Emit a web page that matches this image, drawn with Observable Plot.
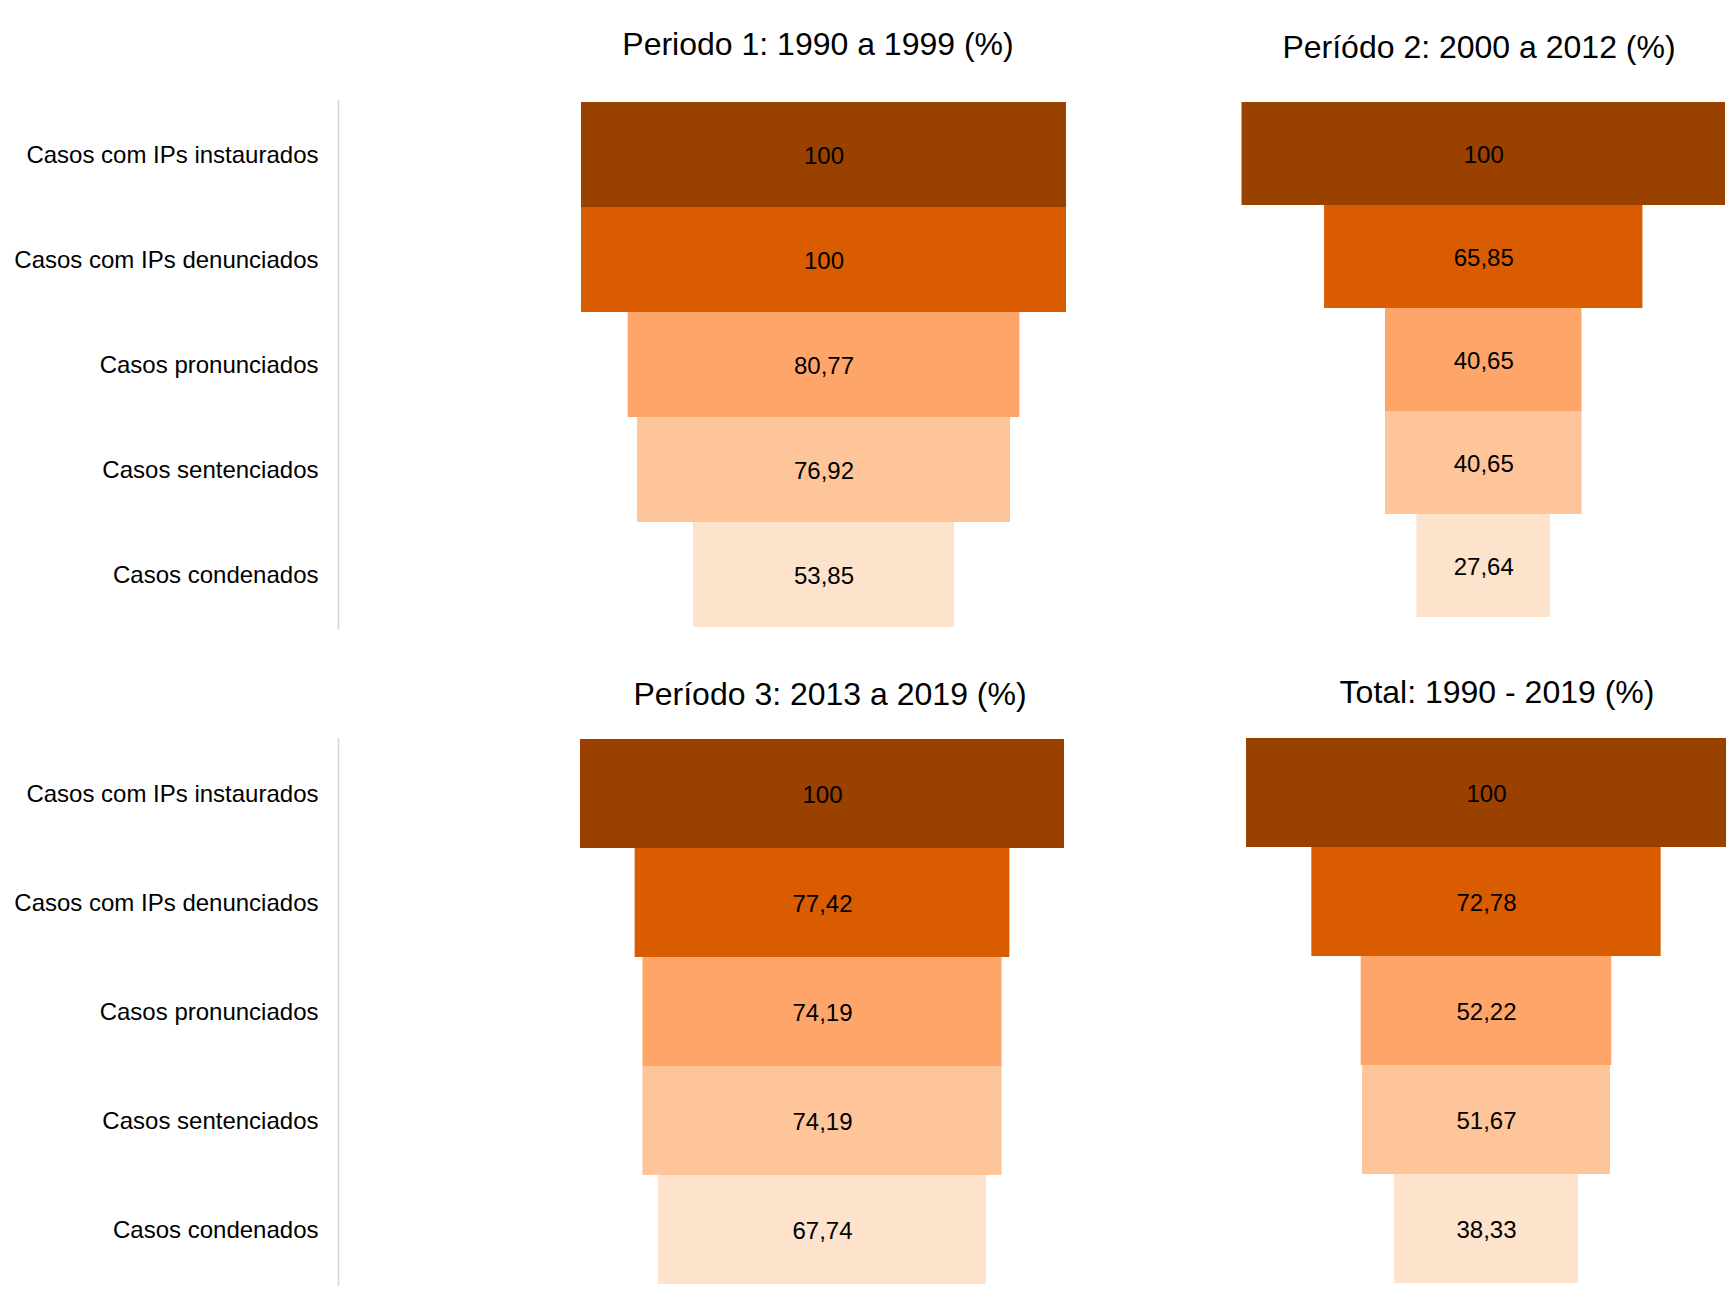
<!DOCTYPE html>
<html>
<head>
<meta charset="utf-8">
<script src="https://cdn.jsdelivr.net/npm/d3@7"></script>
<script src="https://cdn.jsdelivr.net/npm/@observablehq/plot@0.6"></script>
<style>
  html, body { margin: 0; padding: 0; background: #fff; }
  #page { position: relative; width: 1735px; height: 1303px; overflow: hidden; font-family: "Liberation Sans", Arial, sans-serif; }
  #page svg { position: absolute; left: 0; top: 0; }
  .title { position: absolute; font-size: 32px; line-height: 32px; color: #000; white-space: nowrap; transform: translateX(-50%); font-family: "Liberation Sans", Arial, sans-serif; }
</style>
</head>
<body>
<div id="page"></div>
<script>
const stages = ["Casos com IPs instaurados", "Casos com IPs denunciados", "Casos pronunciados", "Casos sentenciados", "Casos condenados"];
const periodo1 = [100, 100, 80.77, 76.92, 53.85];
const periodo2 = [100, 65.85, 40.65, 40.65, 27.64];
const periodo3 = [100, 77.42, 74.19, 74.19, 67.74];
const total = [100, 72.78, 52.22, 51.67, 38.33];
const titles = ["Periodo 1: 1990 a 1999 (%)", "Períódo 2: 2000 a 2012 (%)", "Período 3: 2013 a 2019 (%)", "Total: 1990 - 2019 (%)"];
const stageColors = ["#9a4100", "#d95c00", "#fea66a", "#fec59b", "#fde2cc"];

const W = 1735, H = 1303;
const page = document.getElementById("page");
const fmt = v => d3.format(".2~f")(v).replace(".", ",");

const panels = [
  {values: periodo1, x: [581, 1066], y: [100, 628], axis: true, title: titles[0], tx: 818, tb: 55},
  {values: periodo2, x: [1241.5, 1725], y: [100, 619], axis: false, title: titles[1], tx: 1479, tb: 58},
  {values: periodo3, x: [580, 1064], y: [738, 1285], axis: true, title: titles[2], tx: 830, tb: 705},
  {values: total, x: [1246, 1726], y: [736, 1285], axis: false, title: titles[3], tx: 1497, tb: 703}
];

for (const p of panels) {
  const data = stages.map((s, i) => ({stage: s, value: p.values[i]}));
  const marks = [
    Plot.barX(data, {x1: d => -d.value / 2, x2: d => d.value / 2, y: "stage", fill: "stage", inset: 0}),
    Plot.text(data, {x: d => (d.value / 2 - d.value / 2), y: "stage", text: d => fmt(d.value), fontSize: 24, fill: "#000", dy: 1})
  ];
  if (p.axis) {
    marks.push(Plot.axisY({tickSize: 0, tickPadding: 20, fontSize: 24, fill: "#000"}));
    marks.push(Plot.frame({anchor: "left", stroke: "#d6d6d6", strokeWidth: 1.6}));
  } else {
    marks.push(Plot.axisY({ticks: []}));
  }
  const chart = Plot.plot({
    width: W,
    height: H,
    marginLeft: p.axis ? 338 : p.x[0],
    marginRight: W - p.x[1],
    marginTop: p.y[0],
    marginBottom: H - p.y[1],
    style: {fontFamily: "'Liberation Sans', Arial, sans-serif", fontSize: "24px", color: "#000", background: "transparent", overflow: "visible"},
    x: {domain: [-50, 50], range: p.x, axis: null},
    y: {domain: stages, range: p.y, padding: 0, label: null, axis: null},
    color: {domain: stages, range: stageColors},
    marks
  });
  page.appendChild(chart);
  const t = document.createElement("div");
  t.className = "title";
  t.textContent = p.title;
  t.style.left = p.tx + "px";
  t.style.top = (p.tb - 27) + "px";
  page.appendChild(t);
}
</script>
</body>
</html>
